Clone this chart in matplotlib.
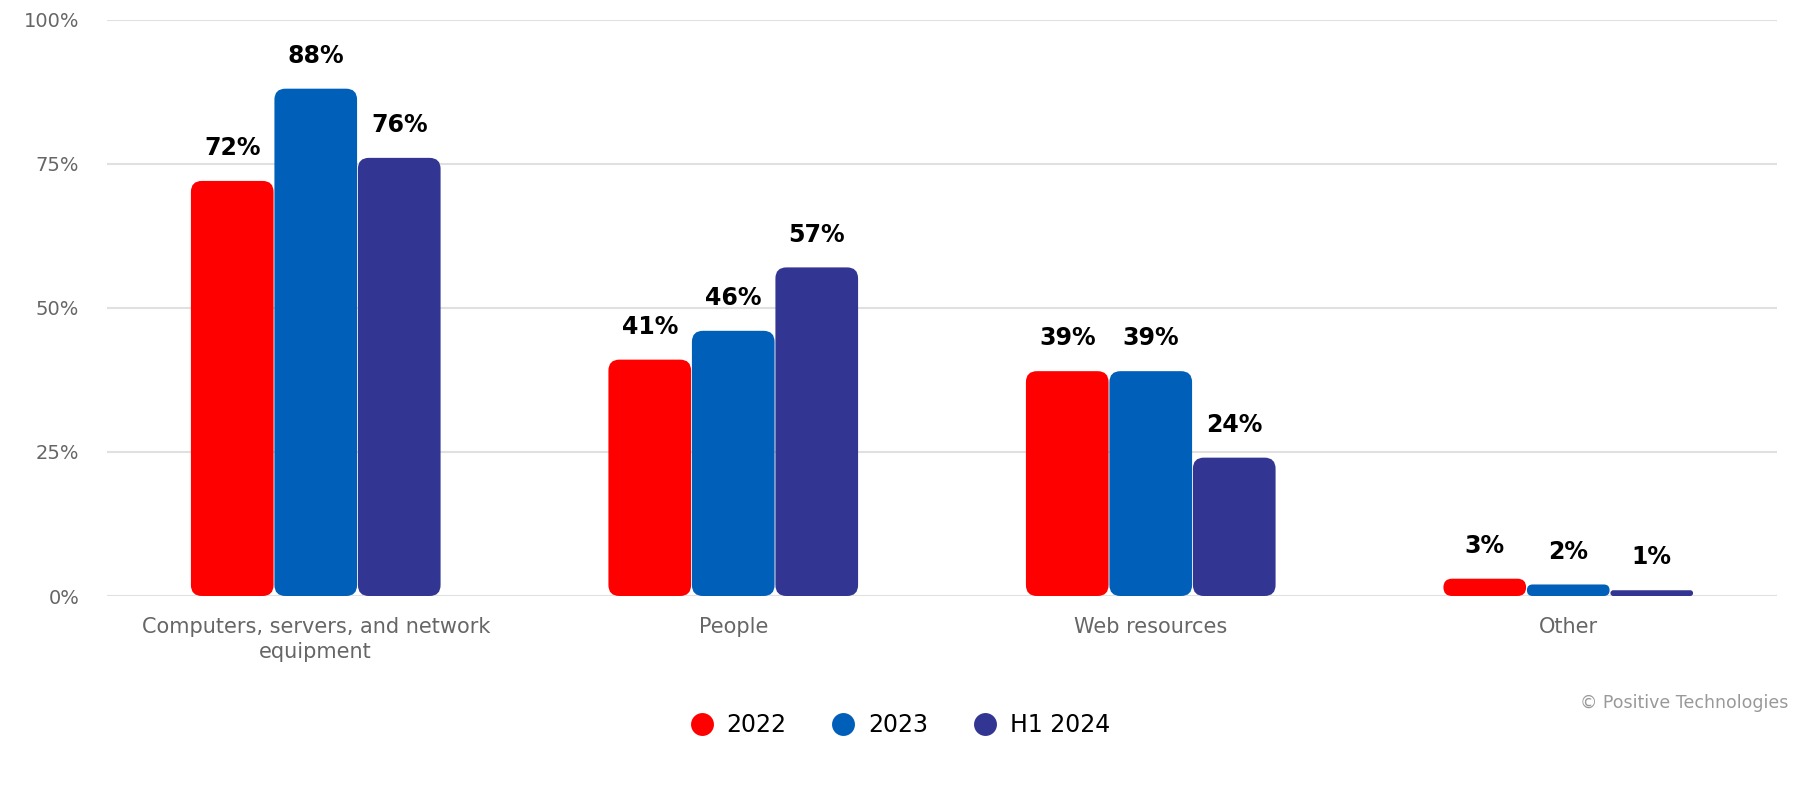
import numpy as np
import matplotlib.pyplot as plt
from matplotlib.patches import FancyBboxPatch
from matplotlib.lines import Line2D

categories = ["Computers, servers, and network\nequipment", "People", "Web resources", "Other"]
series = ["2022", "2023", "H1 2024"]
values_2022 = [72, 41, 39, 3]
values_2023 = [88, 46, 39, 2]
values_h1_2024 = [76, 57, 24, 1]
colors = ["#FF0000", "#0060B9", "#333593"]

yticks = [0, 25, 50, 75, 100]
ytick_labels = ["0%", "25%", "50%", "75%", "100%"]

W, H = 18, 8
fig = plt.figure(figsize=(W, H), dpi=100)
ax = fig.add_axes([107 / 1800, 1 - 596 / 800, 1670 / 1800, 576.5 / 800])
ax.set_xlim(-0.5, len(categories) - 0.5)
ax.set_ylim(0, 100)

# pixels per data unit, for rounding corners evenly
px_x = 1670 / len(categories)
px_y = 576.5 / 100
aspect = px_x / px_y
radius_px = 11

bar_w = 0.2
x = np.arange(len(categories))
all_vals = [values_2022, values_2023, values_h1_2024]
for i, (vals, col) in enumerate(zip(all_vals, colors)):
    offs = (i - 1) * bar_w
    for xi, v in zip(x, vals):
        x0 = xi + offs - bar_w / 2 + 0.001
        w = bar_w - 0.002
        r = min(radius_px / px_x, (v * px_y / 2) / px_x)
        p = FancyBboxPatch((x0, 0), w, v, boxstyle=f"round,pad=0,rounding_size={r}",
                           mutation_aspect=aspect, facecolor=col, edgecolor="none", zorder=3)
        ax.add_patch(p)
        ax.annotate(f"{v}%", (xi + offs, v), xytext=(0, 15), textcoords="offset points",
                    ha="center", va="bottom", fontsize=17, fontweight="bold", color="black")

ax.set_yticks(yticks)
ax.set_yticklabels(ytick_labels)
ax.set_xticks(x)
ax.set_xticklabels(categories, linespacing=1.35)
ax.grid(axis="y", color="#e0e0e0", linewidth=1.5, zorder=0)
ax.tick_params(axis="y", length=0, pad=20, labelsize=14, labelcolor="#666666")
ax.tick_params(axis="x", length=0, pad=15, labelsize=15, labelcolor="#666666")
for s in ax.spines.values():
    s.set_visible(False)

handles = [Line2D([], [], marker="o", linestyle="none", markersize=16.5,
                  markerfacecolor=c, markeredgecolor="none") for c in colors]
fig.legend(handles, series, loc="center", bbox_to_anchor=(0.5, 1 - 725 / 800), ncol=3,
           frameon=False, fontsize=17, handlelength=1.0, handletextpad=0.56,
           columnspacing=1.9)

fig.text(1788 / 1800, 1 - 703 / 800, "© Positive Technologies", ha="right", va="center",
         fontsize=12.5, color="#999999")

fig.savefig("out.png", dpi=100)
